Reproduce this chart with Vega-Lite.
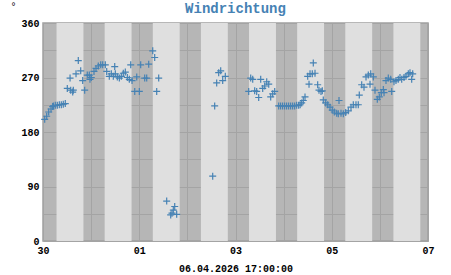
{
  "$schema": "https://vega.github.io/schema/vega-lite/v6.json",
  "width": 385,
  "height": 218,
  "autosize": "none",
  "padding": {"left": 43, "top": 23, "right": 23, "bottom": 34},
  "title": {"text": "Windrichtung", "font": "Liberation Mono", "fontSize": 14, "fontWeight": "bold", "color": "#4682b4", "anchor": "middle", "offset": -9, "dy": 6},
  "datasets": {
    "daylight": [
      {"start": "2026-03-30T06:45:00Z", "end": "2026-03-30T20:10:00Z"},
      {"start": "2026-03-31T06:45:00Z", "end": "2026-03-31T20:10:00Z"},
      {"start": "2026-04-01T06:45:00Z", "end": "2026-04-01T20:10:00Z"},
      {"start": "2026-04-02T06:45:00Z", "end": "2026-04-02T20:10:00Z"},
      {"start": "2026-04-03T06:45:00Z", "end": "2026-04-03T20:10:00Z"},
      {"start": "2026-04-04T06:45:00Z", "end": "2026-04-04T20:10:00Z"},
      {"start": "2026-04-05T06:45:00Z", "end": "2026-04-05T20:10:00Z"},
      {"start": "2026-04-06T06:45:00Z", "end": "2026-04-06T20:10:00Z"}
    ],
    "wind": [
      {"t": "2026-03-30T00:51:00Z", "dir": 201},
      {"t": "2026-03-30T01:51:00Z", "dir": 206},
      {"t": "2026-03-30T02:50:00Z", "dir": 213},
      {"t": "2026-03-30T04:00:00Z", "dir": 218},
      {"t": "2026-03-30T04:50:00Z", "dir": 222},
      {"t": "2026-03-30T05:10:00Z", "dir": 223},
      {"t": "2026-03-30T06:08:00Z", "dir": 224},
      {"t": "2026-03-30T07:08:00Z", "dir": 224},
      {"t": "2026-03-30T08:08:00Z", "dir": 225},
      {"t": "2026-03-30T09:08:00Z", "dir": 225},
      {"t": "2026-03-30T10:07:00Z", "dir": 226},
      {"t": "2026-03-30T11:07:00Z", "dir": 227},
      {"t": "2026-03-30T12:07:00Z", "dir": 252},
      {"t": "2026-03-30T13:30:00Z", "dir": 269},
      {"t": "2026-03-30T13:49:00Z", "dir": 249},
      {"t": "2026-03-30T14:49:00Z", "dir": 246},
      {"t": "2026-03-30T15:07:00Z", "dir": 249},
      {"t": "2026-03-30T16:28:00Z", "dir": 276},
      {"t": "2026-03-30T17:36:00Z", "dir": 298},
      {"t": "2026-03-30T18:48:00Z", "dir": 281},
      {"t": "2026-03-30T19:48:00Z", "dir": 265},
      {"t": "2026-03-30T20:47:00Z", "dir": 249},
      {"t": "2026-03-30T22:05:00Z", "dir": 274},
      {"t": "2026-03-30T23:05:00Z", "dir": 274},
      {"t": "2026-03-30T23:26:00Z", "dir": 267},
      {"t": "2026-03-31T00:05:00Z", "dir": 270},
      {"t": "2026-03-31T01:26:00Z", "dir": 280},
      {"t": "2026-03-31T02:26:00Z", "dir": 285},
      {"t": "2026-03-31T03:35:00Z", "dir": 289},
      {"t": "2026-03-31T04:47:00Z", "dir": 291},
      {"t": "2026-03-31T05:46:00Z", "dir": 291},
      {"t": "2026-03-31T07:04:00Z", "dir": 291},
      {"t": "2026-03-31T07:46:00Z", "dir": 280},
      {"t": "2026-03-31T09:04:00Z", "dir": 272},
      {"t": "2026-03-31T10:04:00Z", "dir": 276},
      {"t": "2026-03-31T11:04:00Z", "dir": 272},
      {"t": "2026-03-31T11:46:00Z", "dir": 288},
      {"t": "2026-03-31T12:04:00Z", "dir": 276},
      {"t": "2026-03-31T13:04:00Z", "dir": 271},
      {"t": "2026-03-31T14:04:00Z", "dir": 269},
      {"t": "2026-03-31T15:04:00Z", "dir": 272},
      {"t": "2026-03-31T16:03:00Z", "dir": 277},
      {"t": "2026-03-31T17:03:00Z", "dir": 279},
      {"t": "2026-03-31T18:03:00Z", "dir": 270},
      {"t": "2026-03-31T19:03:00Z", "dir": 267},
      {"t": "2026-03-31T19:45:00Z", "dir": 291},
      {"t": "2026-03-31T20:24:00Z", "dir": 265},
      {"t": "2026-03-31T21:45:00Z", "dir": 247},
      {"t": "2026-03-31T22:45:00Z", "dir": 271},
      {"t": "2026-04-01T00:02:00Z", "dir": 247},
      {"t": "2026-04-01T00:43:00Z", "dir": 291},
      {"t": "2026-04-01T02:43:00Z", "dir": 269},
      {"t": "2026-04-01T03:43:00Z", "dir": 269},
      {"t": "2026-04-01T04:43:00Z", "dir": 292},
      {"t": "2026-04-01T06:43:00Z", "dir": 314},
      {"t": "2026-04-01T07:42:00Z", "dir": 303},
      {"t": "2026-04-01T08:42:00Z", "dir": 247},
      {"t": "2026-04-01T09:42:00Z", "dir": 269},
      {"t": "2026-04-01T13:41:00Z", "dir": 66},
      {"t": "2026-04-01T15:41:00Z", "dir": 43},
      {"t": "2026-04-01T16:20:00Z", "dir": 46},
      {"t": "2026-04-01T16:59:00Z", "dir": 51},
      {"t": "2026-04-01T17:41:00Z", "dir": 57},
      {"t": "2026-04-01T18:40:00Z", "dir": 44},
      {"t": "2026-04-02T12:38:00Z", "dir": 107},
      {"t": "2026-04-02T13:37:00Z", "dir": 223},
      {"t": "2026-04-02T14:37:00Z", "dir": 261},
      {"t": "2026-04-02T15:37:00Z", "dir": 278},
      {"t": "2026-04-02T16:37:00Z", "dir": 281},
      {"t": "2026-04-02T17:37:00Z", "dir": 265},
      {"t": "2026-04-02T18:55:00Z", "dir": 272},
      {"t": "2026-04-03T06:35:00Z", "dir": 247},
      {"t": "2026-04-03T07:35:00Z", "dir": 269},
      {"t": "2026-04-03T08:35:00Z", "dir": 267},
      {"t": "2026-04-03T09:34:00Z", "dir": 248},
      {"t": "2026-04-03T10:34:00Z", "dir": 247},
      {"t": "2026-04-03T11:34:00Z", "dir": 237},
      {"t": "2026-04-03T12:34:00Z", "dir": 267},
      {"t": "2026-04-03T13:34:00Z", "dir": 252},
      {"t": "2026-04-03T14:34:00Z", "dir": 256},
      {"t": "2026-04-03T15:34:00Z", "dir": 263},
      {"t": "2026-04-03T16:34:00Z", "dir": 259},
      {"t": "2026-04-03T17:33:00Z", "dir": 238},
      {"t": "2026-04-03T18:33:00Z", "dir": 243},
      {"t": "2026-04-03T19:33:00Z", "dir": 247},
      {"t": "2026-04-03T21:32:00Z", "dir": 223},
      {"t": "2026-04-03T22:30:00Z", "dir": 223},
      {"t": "2026-04-03T23:30:00Z", "dir": 223},
      {"t": "2026-04-04T00:30:00Z", "dir": 223},
      {"t": "2026-04-04T01:30:00Z", "dir": 223},
      {"t": "2026-04-04T02:30:00Z", "dir": 223},
      {"t": "2026-04-04T03:30:00Z", "dir": 223},
      {"t": "2026-04-04T04:30:00Z", "dir": 223},
      {"t": "2026-04-04T05:30:00Z", "dir": 223},
      {"t": "2026-04-04T06:30:00Z", "dir": 224},
      {"t": "2026-04-04T07:30:00Z", "dir": 224},
      {"t": "2026-04-04T08:15:00Z", "dir": 225},
      {"t": "2026-04-04T09:00:00Z", "dir": 228},
      {"t": "2026-04-04T09:48:00Z", "dir": 232},
      {"t": "2026-04-04T10:40:00Z", "dir": 238},
      {"t": "2026-04-04T12:00:00Z", "dir": 272},
      {"t": "2026-04-04T12:40:00Z", "dir": 259},
      {"t": "2026-04-04T13:10:00Z", "dir": 276},
      {"t": "2026-04-04T14:18:00Z", "dir": 276},
      {"t": "2026-04-04T14:48:00Z", "dir": 294},
      {"t": "2026-04-04T15:39:00Z", "dir": 277},
      {"t": "2026-04-04T16:59:00Z", "dir": 258},
      {"t": "2026-04-04T17:38:00Z", "dir": 249},
      {"t": "2026-04-04T18:38:00Z", "dir": 247},
      {"t": "2026-04-04T19:17:00Z", "dir": 248},
      {"t": "2026-04-04T19:47:00Z", "dir": 233},
      {"t": "2026-04-04T20:59:00Z", "dir": 228},
      {"t": "2026-04-04T21:59:00Z", "dir": 225},
      {"t": "2026-04-04T23:08:00Z", "dir": 221},
      {"t": "2026-04-05T00:16:00Z", "dir": 216},
      {"t": "2026-04-05T01:16:00Z", "dir": 213},
      {"t": "2026-04-05T02:28:00Z", "dir": 211},
      {"t": "2026-04-05T03:16:00Z", "dir": 210},
      {"t": "2026-04-05T03:37:00Z", "dir": 232},
      {"t": "2026-04-05T04:37:00Z", "dir": 211},
      {"t": "2026-04-05T05:46:00Z", "dir": 210},
      {"t": "2026-04-05T06:58:00Z", "dir": 212},
      {"t": "2026-04-05T08:15:00Z", "dir": 215},
      {"t": "2026-04-05T09:36:00Z", "dir": 221},
      {"t": "2026-04-05T10:45:00Z", "dir": 225},
      {"t": "2026-04-05T12:05:00Z", "dir": 225},
      {"t": "2026-04-05T13:14:00Z", "dir": 225},
      {"t": "2026-04-05T13:44:00Z", "dir": 241},
      {"t": "2026-04-05T14:56:00Z", "dir": 258},
      {"t": "2026-04-05T16:05:00Z", "dir": 254},
      {"t": "2026-04-05T17:05:00Z", "dir": 271},
      {"t": "2026-04-05T18:14:00Z", "dir": 274},
      {"t": "2026-04-05T19:05:00Z", "dir": 259},
      {"t": "2026-04-05T19:26:00Z", "dir": 276},
      {"t": "2026-04-05T20:44:00Z", "dir": 271},
      {"t": "2026-04-05T21:34:00Z", "dir": 249},
      {"t": "2026-04-05T22:43:00Z", "dir": 234},
      {"t": "2026-04-05T23:43:00Z", "dir": 238},
      {"t": "2026-04-06T00:43:00Z", "dir": 245},
      {"t": "2026-04-06T01:43:00Z", "dir": 250},
      {"t": "2026-04-06T02:04:00Z", "dir": 245},
      {"t": "2026-04-06T03:03:00Z", "dir": 265},
      {"t": "2026-04-06T04:12:00Z", "dir": 269},
      {"t": "2026-04-06T05:24:00Z", "dir": 267},
      {"t": "2026-04-06T05:54:00Z", "dir": 247},
      {"t": "2026-04-06T07:02:00Z", "dir": 263},
      {"t": "2026-04-06T08:02:00Z", "dir": 265},
      {"t": "2026-04-06T09:11:00Z", "dir": 267},
      {"t": "2026-04-06T10:02:00Z", "dir": 270},
      {"t": "2026-04-06T10:53:00Z", "dir": 267},
      {"t": "2026-04-06T12:02:00Z", "dir": 270},
      {"t": "2026-04-06T13:02:00Z", "dir": 272},
      {"t": "2026-04-06T14:11:00Z", "dir": 276},
      {"t": "2026-04-06T15:01:00Z", "dir": 278},
      {"t": "2026-04-06T15:52:00Z", "dir": 267},
      {"t": "2026-04-06T16:22:00Z", "dir": 276}
    ]
  },
  "layer": [
    {
      "data": {"name": "daylight"},
      "mark": {"type": "rect", "color": "#dfdfdf"},
      "encoding": {
        "x": {"field": "start", "type": "temporal"},
        "x2": {"field": "end"}
      }
    },
    {
      "data": {"name": "wind"},
      "mark": {"type": "point", "shape": "M-1,0H1M0,-1V1", "size": 49, "filled": false, "stroke": "#4682b4", "strokeWidth": 1.2, "opacity": 1},
      "encoding": {
        "x": {
          "field": "t", "type": "temporal",
          "scale": {"type": "utc", "domain": [{"year": 2026, "month": 3, "date": 30, "utc": true}, {"year": 2026, "month": 4, "date": 7, "utc": true}]},
          "axis": {
            "title": "06.04.2026 17:00:00",
            "titleFont": "Liberation Mono", "titleFontSize": 10, "titleFontWeight": "bold", "titleColor": "#000000",
            "titlePadding": 8,
            "values": [
              {"year": 2026, "month": 3, "date": 30, "utc": true},
              {"year": 2026, "month": 3, "date": 31, "utc": true},
              {"year": 2026, "month": 4, "date": 1, "utc": true},
              {"year": 2026, "month": 4, "date": 2, "utc": true},
              {"year": 2026, "month": 4, "date": 3, "utc": true},
              {"year": 2026, "month": 4, "date": 4, "utc": true},
              {"year": 2026, "month": 4, "date": 5, "utc": true},
              {"year": 2026, "month": 4, "date": 6, "utc": true},
              {"year": 2026, "month": 4, "date": 7, "utc": true}
            ],
            "format": "%d",
            "labelExpr": "indexof(['30','01','03','05','07'], datum.label) >= 0 ? datum.label : ''",
            "labelFont": "Liberation Mono", "labelFontSize": 10, "labelFontWeight": "bold", "labelColor": "#000000",
            "labelPadding": 4, "labelFlush": false, "labelOverlap": false,
            "ticks": false, "domain": false,
            "grid": true, "gridColor": "#a4a4a4", "gridWidth": 1
          }
        },
        "y": {
          "field": "dir", "type": "quantitative",
          "scale": {"domain": [0, 360], "nice": false},
          "axis": {
            "title": "°",
            "titleAngle": 0, "titleX": -33, "titleY": -17, "titleAlign": "left", "titleBaseline": "middle",
            "titleFont": "Liberation Mono", "titleFontSize": 10, "titleFontWeight": "normal", "titleColor": "#000000",
            "values": [0, 45, 90, 135, 180, 225, 270, 315, 360],
            "labelExpr": "datum.value % 90 == 0 ? datum.label : ''",
            "labelFont": "Liberation Mono", "labelFontSize": 10, "labelFontWeight": "bold", "labelColor": "#000000",
            "labelPadding": 4, "labelFlush": false, "labelOverlap": false,
            "ticks": false, "domain": false,
            "grid": true, "gridColor": "#a4a4a4", "gridWidth": 1
          }
        }
      }
    }
  ],
  "config": {
    "view": {"stroke": "#a0a0a0", "strokeWidth": 1.5, "fill": "#b6b6b6"},
    "background": "#ffffff"
  }
}
